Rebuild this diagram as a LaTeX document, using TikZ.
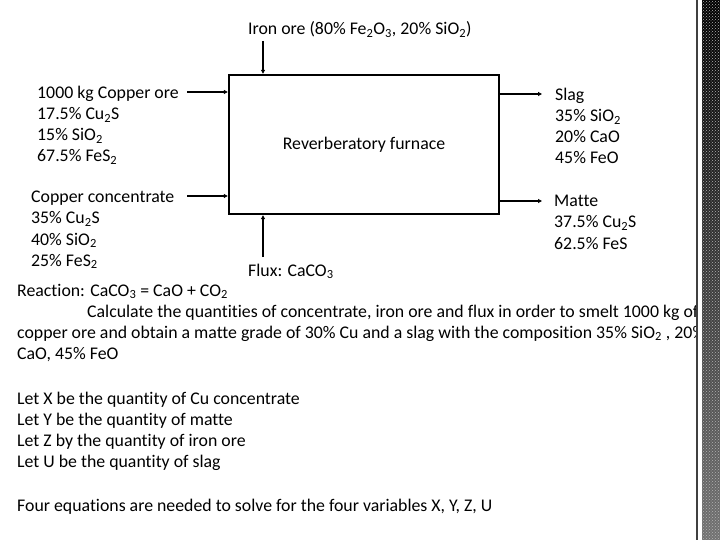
\documentclass[tikz,border=0pt]{standalone}
\usepackage{fontspec}
\setmainfont[Ligatures=NoCommon]{Carlito}
\usetikzlibrary{arrows.meta,patterns}
\newcommand\myfs{\fontsize{17.8}{21}\selectfont}
\newcommand\sbs[1]{\textsubscript{#1}}
\tikzset{
  txt/.style={anchor=base west, inner sep=0pt, font=\myfs},
  flow/.style={line width=2pt, -{Triangle[length=4pt,width=4pt]}},
  furnacebox/.style={draw, line width=2.4pt, minimum width=270pt, minimum height=139pt, inner sep=0pt, font=\myfs}
}
\begin{document}
\begin{tikzpicture}[x=1pt,y=-1pt]
\useasboundingbox (0,0) rectangle (720,540);
\fill[white] (0,0) rectangle (720,540);

\node[furnacebox] (furnace) at (364,144.5) {Reverberatory furnace};

% input / output labels
\node[txt] (iron) at (248,35) {Iron ore (80\% Fe\sbs{2}O\sbs{3}, 20\% SiO\sbs{2})};
\node[txt] (ore1) at (37,99) {1000 kg Copper ore};
\node[txt] (ore2) at (37,120) {17.5\% Cu\sbs{2}S};
\node[txt] (ore3) at (37,141) {15\% SiO\sbs{2}};
\node[txt] (ore4) at (37,162) {67.5\% FeS\sbs{2}};
\node[txt] (con1) at (31,203) {Copper concentrate};
\node[txt] (con2) at (31,224) {35\% Cu\sbs{2}S};
\node[txt] (con3) at (31,245) {40\% SiO\sbs{2}};
\node[txt] (con4) at (31,266) {25\% FeS\sbs{2}};
\node[txt] (slag1) at (555,101) {Slag};
\node[txt] (slag2) at (555,122) {35\% SiO\sbs{2}};
\node[txt] (slag3) at (555,143) {20\% CaO};
\node[txt] (slag4) at (555,164) {45\% FeO};
\node[txt] (mat1) at (554,207) {Matte};
\node[txt] (mat2) at (554,228) {37.5\% Cu\sbs{2}S};
\node[txt] (mat3) at (554,249) {62.5\% FeS};
\node[txt] (flux) at (248,276) {Flux: CaCO\sbs{3}};

% connectors
\coordinate (ironS) at (263,41);
\coordinate (oreS) at (187,92);
\coordinate (conS) at (187,196);
\coordinate (fluxS) at (263,257);
\coordinate (slagE) at (542,94);
\coordinate (matE) at (542,201);
\draw[flow] (ironS) -- (ironS |- furnace.north);
\draw[flow] (oreS) -- (oreS -| furnace.west);
\draw[flow] (conS) -- (conS -| furnace.west);
\draw[flow] (fluxS) -- (fluxS |- furnace.south);
\draw[flow] (slagE -| furnace.east) -- (slagE);
\draw[flow] (matE -| furnace.east) -- (matE);

% text body
\node[txt] (react) at (17,296) {Reaction: CaCO\sbs{3} = CaO + CO\sbs{2}};
\node[txt] (calc1) at (87,317) {Calculate the quantities of concentrate, iron ore and flux in order to smelt 1000 kg of};
\node[txt] (calc2) at (17,338) {copper ore and obtain a matte grade of 30\% Cu and a slag with the composition 35\% SiO\sbs{2} , 20\%};
\node[txt] (calc3) at (17,359) {CaO, 45\% FeO};
\node[txt] (letx) at (17,404) {Let X be the quantity of Cu concentrate};
\node[txt] (lety) at (17,425) {Let Y be the quantity of matte};
\node[txt] (letz) at (17,446) {Let Z by the quantity of iron ore};
\node[txt] (letu) at (17,467) {Let U be the quantity of slag};
\node[txt] (four) at (17,511) {Four equations are needed to solve for the four variables X, Y, Z, U};

% right decorative strip
\fill[white] (698,0) rectangle (702,540);
\fill[black!75] (696,0) rectangle (698,540);
\shade[top color=black, bottom color=black!55] (702,0) rectangle (720,540);
\fill[pattern=crosshatch dots, pattern color=gray!60] (702,0) rectangle (720,540);
\end{tikzpicture}
\end{document}
